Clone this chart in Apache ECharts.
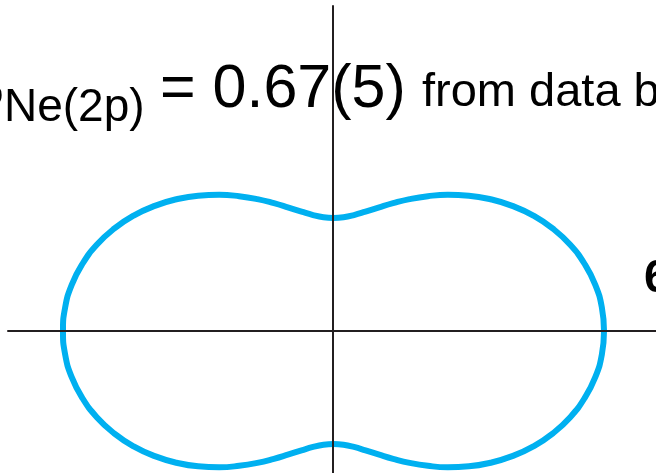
<!DOCTYPE html>
<html>
<head>
<meta charset="utf-8">
<script src="https://cdn.jsdelivr.net/npm/echarts@6/dist/echarts.min.js"></script>
<style>
  html, body { margin: 0; padding: 0; background: #fff; }
  #main { width: 656px; height: 473px; }
</style>
</head>
<body>
<div id="main"></div>
<script>
// emission angle (deg, 0 = along the horizontal axis)
var angles = [0, 5, 10, 15, 20, 25, 30, 35, 40, 45, 50, 55, 60, 65, 70, 75, 80, 85, 90,
  95, 100, 105, 110, 115, 120, 125, 130, 135, 140, 145, 150, 155, 160, 165, 170, 175, 180,
  185, 190, 195, 200, 205, 210, 215, 220, 225, 230, 235, 240, 245, 250, 255, 260, 265, 270,
  275, 280, 285, 290, 295, 300, 305, 310, 315, 320, 325, 330, 335, 340, 345, 350, 355, 360];
// intensity
var intensity = [1.675, 1.668, 1.646, 1.609, 1.560, 1.499, 1.429, 1.351, 1.269, 1.185, 1.101, 1.019, 0.943, 0.873, 0.813, 0.765, 0.729, 0.707, 0.700,
  0.707, 0.729, 0.765, 0.813, 0.873, 0.943, 1.019, 1.101, 1.185, 1.269, 1.351, 1.429, 1.499, 1.560, 1.609, 1.646, 1.668, 1.675,
  1.668, 1.646, 1.609, 1.560, 1.499, 1.429, 1.351, 1.269, 1.185, 1.101, 1.019, 0.943, 0.873, 0.813, 0.765, 0.729, 0.707, 0.700,
  0.707, 0.729, 0.765, 0.813, 0.873, 0.943, 1.019, 1.101, 1.185, 1.269, 1.351, 1.429, 1.499, 1.560, 1.609, 1.646, 1.668, 1.675];

var betaSymbol = 'β';
var betaSub = 'Ne(2p)';
var betaValue = '= 0.67(5)';
var betaNote = 'from data by';
var sideLabel = '6';

var font = "'Liberation Sans', Arial, sans-serif";

var points = [];
for (var i = 0; i < angles.length; i++) {
  points.push([intensity[i], angles[i]]);
}

var myChart = echarts.init(document.getElementById('main'));
myChart.setOption({
  animation: false,
  backgroundColor: '#fff',
  // cartesian grid only used for the cross of axes
  grid: { left: 8, right: 0, top: 6, bottom: 0 },
  xAxis: {
    type: 'value', min: -325, max: 323, z: 5,
    axisLine: { show: true, onZero: true, lineStyle: { color: '#231f20', width: 2 } },
    axisTick: { show: false }, axisLabel: { show: false }, splitLine: { show: false }
  },
  yAxis: {
    type: 'value', min: -142, max: 325, z: 5,
    axisLine: { show: true, onZero: true, lineStyle: { color: '#231f20', width: 2 } },
    axisTick: { show: false }, axisLabel: { show: false }, splitLine: { show: false }
  },
  polar: { center: [333.5, 331], radius: 323 },
  angleAxis: { type: 'value', min: 0, max: 360, startAngle: 0, show: false },
  radiusAxis: { type: 'value', min: 0, max: 2, show: false },
  series: [
    {
      type: 'line',
      coordinateSystem: 'polar',
      data: points,
      smooth: true,
      showSymbol: false,
      clip: false,
      lineStyle: { color: '#00b0f0', width: 6 }
    }
  ],
  graphic: [
    { type: 'text', x: -31, y: 90, style: { text: betaSymbol, font: '61px ' + font, fill: '#000', verticalAlign: 'middle' } },
    { type: 'text', x: 4, y: 108, style: { text: betaSub, font: '46px ' + font, fill: '#000', verticalAlign: 'middle' } },
    { type: 'text', x: 160, y: 90, style: { text: betaValue, font: '61px ' + font, fill: '#000', verticalAlign: 'middle' } },
    { type: 'text', x: 422, y: 93, style: { text: betaNote, font: '47px ' + font, fill: '#000', verticalAlign: 'middle' } },
    { type: 'text', x: 644, y: 279, style: { text: sideLabel, font: 'bold 46px ' + font, fill: '#000', verticalAlign: 'middle' } }
  ]
});
window.onresize = myChart.resize;
</script>
</body>
</html>
